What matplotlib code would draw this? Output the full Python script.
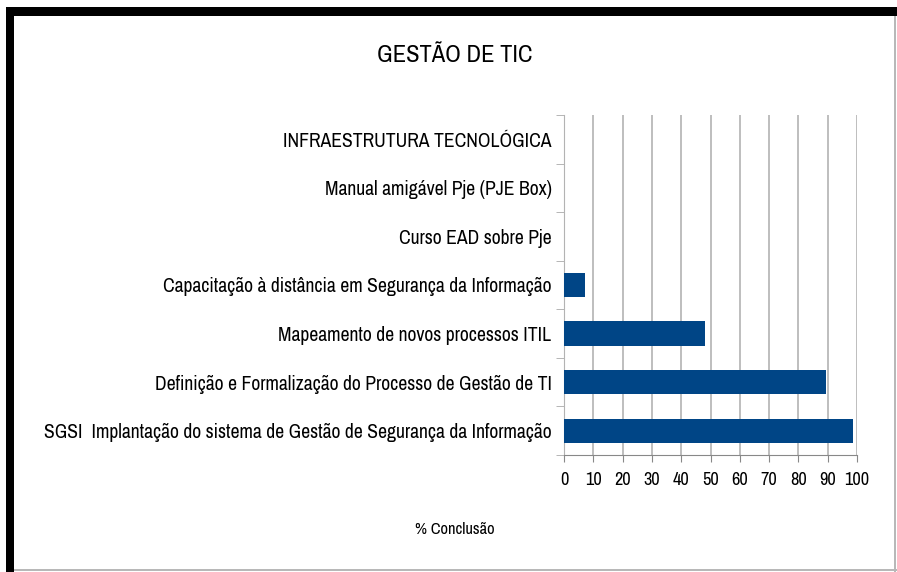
import matplotlib
matplotlib.use("Agg")
import matplotlib.pyplot as plt
from matplotlib.patches import Rectangle
from matplotlib import font_manager

categories = [
    "SGSI  Implantação do sistema de Gestão de Segurança da Informação",
    "Definição e Formalização do Processo de Gestão de TI",
    "Mapeamento de novos processos ITIL",
    "Capacitação à distância em Segurança da Informação",
    "Curso EAD sobre Pje",
    "Manual amigável Pje (PJE Box)",
    "INFRAESTRUTURA TECNOLÓGICA",
]
values = [98.5, 89.5, 48, 7, 0, 0, 0]
xticks = [0, 10, 20, 30, 40, 50, 60, 70, 80, 90, 100]
title = "GESTÃO DE TIC"
xlabel = "% Conclusão"

# pick a narrow font if one exists
narrow = None
for f in font_manager.fontManager.ttflist:
    fn = f.fname.lower()
    if "narrow" in fn and "bold" not in fn and "italic" not in fn:
        narrow = f.fname
        break
if narrow is None:
    for f in font_manager.fontManager.ttflist:
        fn = f.fname.lower()
        if "dejavusanscondensed.ttf" in fn:
            narrow = f.fname
            break
if narrow is not None:
    def fp(size):
        return font_manager.FontProperties(fname=narrow, size=size)
else:
    def fp(size):
        return font_manager.FontProperties(family="Liberation Sans", size=size)

W, H = 897, 572
fig = plt.figure(figsize=(W / 100, H / 100), dpi=100)
fig.patch.set_facecolor("white")
renderer = fig.canvas.get_renderer()


def fit_size(text, target_px, start=13.0):
    t = fig.text(0, 0, text, fontproperties=fp(start))
    w = t.get_window_extent(renderer).width
    t.remove()
    return start * target_px / w


# screenshot frame
fig.add_artist(Rectangle((6 / W, 1 - 16 / H), 1, 9 / H, transform=fig.transFigure, color="black", lw=0))
fig.add_artist(Rectangle((6 / W, 0), 8 / W, 1 - 7 / H, transform=fig.transFigure, color="black", lw=0))
fig.add_artist(Rectangle((894 / W, 0), 2 / W, 1 - 16 / H, transform=fig.transFigure, color="#b8b8b8", lw=0))
fig.add_artist(Rectangle((14 / W, 1 / H), 1, 2 / H, transform=fig.transFigure, color="#b8b8b8", lw=0))

left, right = 564 / W, 857 / W
top, bottom = 1 - 115 / H, 1 - 455 / H
ax = fig.add_axes([left, bottom, right - left, top - bottom])

y = list(range(len(categories)))
ax.barh(y, values, height=0.5, color="#004586", zorder=3)
ax.set_xlim(0, 100)
ax.set_ylim(-0.5, len(categories) - 0.5)

ysize = fit_size(categories[0], 512)
xsize = fit_size("100", 25)
ax.set_xticks(xticks)
ax.set_xticklabels([str(t) for t in xticks], fontproperties=fp(xsize))
ax.set_yticks(y)
ax.set_yticklabels(categories, fontproperties=fp(ysize))
ax.tick_params(axis="y", length=0, pad=9)
ax.tick_params(axis="x", length=5, color="#888888", pad=7)
ax.set_yticks([i - 0.5 for i in range(len(categories) + 1)], minor=True)
ax.tick_params(axis="y", which="minor", length=6, color="#aaaaaa")
ax.xaxis.grid(True, color="#b3b3b3", lw=1.2, zorder=0)
for s in ["top", "right"]:
    ax.spines[s].set_visible(False)
ax.spines["left"].set_color("#b3b3b3")
ax.spines["bottom"].set_color("#888888")

tsize = fit_size(title, 155)
fig.text(455 / W, 1 - 56 / H, title, ha="center", va="center", fontproperties=fp(tsize))
lsize = fit_size(xlabel, 80)
fig.text(455 / W, 1 - 530 / H, xlabel, ha="center", va="center", fontproperties=fp(lsize))

fig.savefig("out.png", dpi=100, facecolor="white")
